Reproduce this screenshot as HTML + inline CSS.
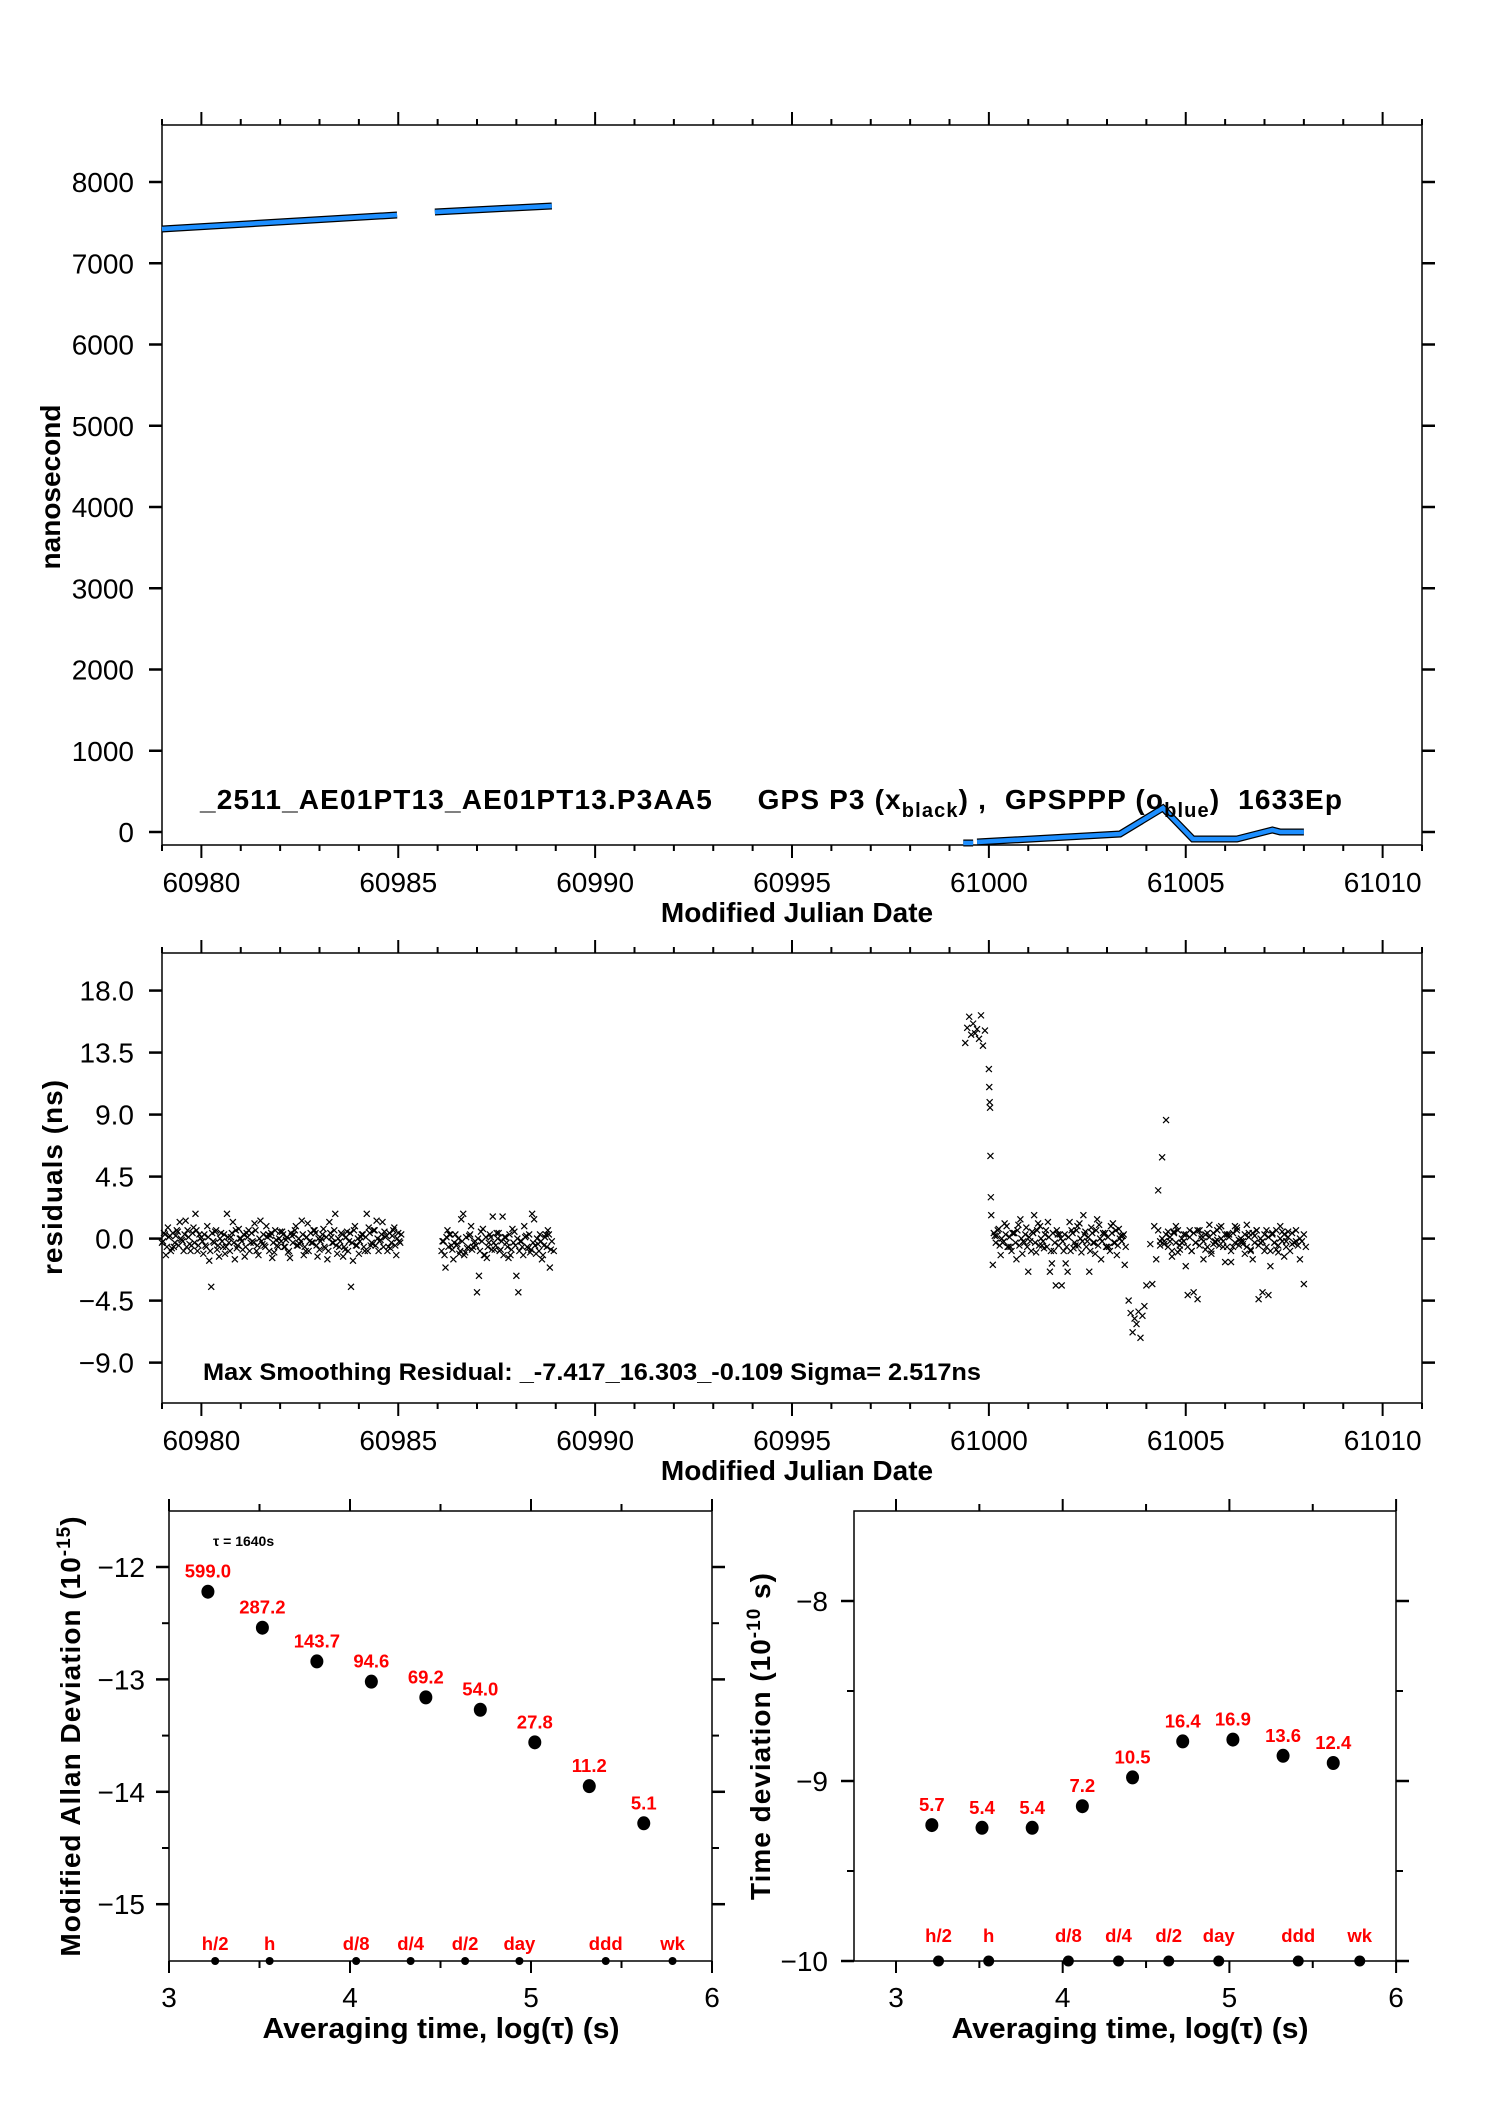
<!DOCTYPE html>
<html><head><meta charset="utf-8"><style>
html,body{margin:0;padding:0;background:#fff}
svg{display:block}
text{font-family:"Liberation Sans",sans-serif}
</style></head><body>
<svg id="root" width="1488" height="2105" viewBox="0 0 1488 2105" xmlns="http://www.w3.org/2000/svg">
<rect width="1488" height="2105" fill="#fff"/>
<g id="top"></g>
<g id="res"></g>
<g id="adev"></g>
<g id="tdev"></g>
</svg>
<script>
// ---------- data ----------
const line1Mjd = [60979.0, 60984.97];
const line1Ns = [7421, 7594];
const line2Mjd = [60985.93, 60988.9];
const line2Ns = [7631, 7705];
const line3Mjd = [60999.35, 60999.6];
const line3Ns = [-135, -135];
const line4Mjd = [60999.7, 61003.33, 61004.42, 61005.18, 61006.3, 61007.2, 61007.4, 61008.0];
const line4Ns = [-123, -25, 295, -86, -86, 25, 0, 0];

const topYTicks = [0,1000,2000,3000,4000,5000,6000,7000,8000];
const mjdTickLabels = [60980,60985,60990,60995,61000,61005,61010];
const resYTicks = [18.0,13.5,9.0,4.5,0.0,-4.5,-9.0];
const resYLabels = ["18.0","13.5","9.0","4.5","0.0","\u22124.5","\u22129.0"];

const resS1Start = 60979.0, resS1Step = 0.1;
const resS1 = [-0.3,-1.2,0.2,-0.6,0.5,-0.1,1.3,-0.4,0.8,-0.9,0.1,-0.5,-1.6,-0.2,-0.8,0.4,-1.1,-0.3,1.2,-0.7,0.0,-1.3,0.6,-0.2,-0.9,1.3,-0.5,0.3,-1.4,-0.1,0.5,-0.6,-1.0,0.2,0.9,-0.4,-1.2,1.1,-0.3,0.4,-0.8,0.7,-1.5,0.1,1.8,-0.6,-1.3,0.5,-3.5,0.9,-1.1,0.3,1.8,-0.5,0.6,-0.9,1.2,0.2,-0.7,0.8,0.4];
const resS2Start = 60986.1, resS2Step = 0.1;
const resS2 = [-0.9,-2.1,0.3,-1.5,-0.4,1.4,-1.0,0.2,-0.6,-3.9,0.5,-1.2,-0.3,1.6,0.4,-0.8,0.1,-1.4,0.7,-2.7,-0.2,0.9,-0.7,1.8,-1.1,0.3,-0.5,0.6,-0.2];
const resS3Start = 60999.4, resS3Step = 0.05;
const resS3 = [14.2,15.3,16.1,14.8,15.6,14.9,15.2,14.5,16.2,14.0,15.1];
const resS3bStart = 61000.0, resS3bStep = 0.01;
const resS3b = [12.3,11.0,9.9,9.5,6.0,3.0,1.7];
const resS4Start = 61000.1, resS4Step = 0.1;
const resS4 = [-1.9,0.2,-1.2,1.1,-0.6,0.4,-1.5,1.4,-0.3,-2.4,0.5,-1.0,0.9,-0.7,1.2,-1.8,-3.4,0.3,-0.9,-2.4,0.6,-0.5,1.1,1.7,-0.2,0.8,-1.1,1.0,0.4,-0.6,0.9,-0.3,0.7,0.2];
const resS5Start = 61003.55, resS5Step = 0.05;
const resS5 = [-4.5,-5.4,-6.8,-5.8,-6.2,-5.3,-7.2,-5.6,-4.9,-3.4];
const resS6Start = 61004.1, resS6Step = 0.1;
const resS6 = [-0.4,0.9,3.5,5.9,8.6,-0.2,0.5,-1.0,-0.3,-2.0,0.6,-3.9,-4.4,0.2,-0.8,1.0,-0.4,-0.1,0.9,-1.7,0.3,-0.6,0.8,-0.2,-1.1,0.4,-1.5,0.6,-0.3,-0.9,-4.1,0.3,-0.8,0.9,-1.3,0.5,-0.4,-0.2,-1.5,-3.3];
const resDense = [-0.2,0.3,-0.6,0.1,-0.9,0.4,-0.3,0.6,-0.5,0.0];

const logTau = [3.215,3.516,3.817,4.118,4.419,4.720,5.021,5.322,5.623];
const adevVals = [-12.22,-12.54,-12.84,-13.02,-13.16,-13.27,-13.56,-13.95,-14.28];
const adevLabels = ["599.0","287.2","143.7","94.6","69.2","54.0","27.8","11.2","5.1"];
const tdevVals = [-9.245,-9.26,-9.26,-9.14,-8.98,-8.78,-8.77,-8.86,-8.90];
const tdevLabels = ["5.7","5.4","5.4","7.2","10.5","16.4","16.9","13.6","12.4"];
const markLog = [3.255,3.556,4.034,4.335,4.636,4.936,5.413,5.782];
const markLabels = ["h/2","h","d/8","d/4","d/2","day","ddd","wk"];
const adevYTicks = [-12,-13,-14,-15];
const tdevYTicks = [-8,-9,-10];
const logXTicks = [3,4,5,6];

// ---------- helpers ----------
const NS='http://www.w3.org/2000/svg';
function mk(parent, tag, attrs, txt){
  const e=document.createElementNS(NS,tag);
  for(const k in attrs) e.setAttribute(k,attrs[k]);
  if(txt!==undefined) e.textContent=txt;
  parent.appendChild(e); return e;
}
const X = m => 162 + (m-60979)*39.375;
const Y1 = v => 832 - v*0.08125;
const Y2 = v => 1238.6 - v*13.78;
const XL = l => 169 + (l-3)*181;
const YL = v => 1567 + (-12 - v)*112.4;
const XR = l => 896 + (l-3)*166.7;
const YR = v => 1601 + (-8 - v)*180;

function frame(g,x0,y0,x1,y1,name){
  const r=mk(g,'rect',{x:x0,y:y0,width:x1-x0,height:y1-y0,fill:'none',stroke:'#000','stroke-width':1.5});
  
  
}
function mjdAxis(g, y0, y1, labelY, titleY){
  for(let d=60979; d<=61011; d++){
    const x=X(d), major = d%5===0;
    const len = major?13:6;
    const t1=mk(g,'line',{x1:x,x2:x,y1:y0,y2:y0-len,stroke:'#000','stroke-width':2});
    
    
    const t2=mk(g,'line',{x1:x,x2:x,y1:y1,y2:y1+len,stroke:'#000','stroke-width':2});
    
    
  }
  mjdTickLabels.forEach(m=>{
    const t=mk(g,'text',{x:X(m),y:labelY,'font-size':28,'text-anchor':'middle'},String(m));
    
    
  });
  const tt=mk(g,'text',{x:797,y:titleY,'font-size':28,'font-weight':'bold','text-anchor':'middle'},'Modified Julian Date');
  
  
}
function yTicks(g, vals, labels, yf, x0, x1, lx, fs){
  vals.forEach((v,i)=>{
    const y=yf(v);
    const a=mk(g,'line',{x1:x0-13,x2:x0,y1:y,y2:y,stroke:'#000','stroke-width':2.5});
    
    
    const b=mk(g,'line',{x1:x1,x2:x1+13,y1:y,y2:y,stroke:'#000','stroke-width':2.5});
    
    
    const t=mk(g,'text',{x:lx,y:y+10,'font-size':fs,'text-anchor':'end'},labels[i]);
    
    
  });
}

// ---------- top panel ----------
const gt=document.getElementById('top');
frame(gt,162,125,1422,845,'top-plot-frame');
mjdAxis(gt,125,845,892,922);
yTicks(gt, topYTicks, topYTicks.map(String), Y1, 162,1422,134,28);
const yt=mk(gt,'text',{x:0,y:0,'font-size':28,'font-weight':'bold','text-anchor':'middle',transform:'translate(60,487) rotate(-90)'},'nanosecond');


[[line1Mjd,line1Ns],[line2Mjd,line2Ns],[line3Mjd,line3Ns],[line4Mjd,line4Ns]].forEach((p,k)=>{
  const pts=p[0].map((m,i)=>X(m)+','+Y1(p[1][i])).join(' ');
  const bl=mk(gt,'polyline',{points:pts,fill:'none',stroke:'#000','stroke-width':7,'stroke-linejoin':'miter'});
  
  
  const bu=mk(gt,'polyline',{points:pts,fill:'none',stroke:'#1e8fff','stroke-width':4.5,'stroke-linejoin':'miter'});
  
  
});
const ttl=mk(gt,'text',{x:200,y:809,'font-size':28,'font-weight':'bold',textLength:1142,lengthAdjust:'spacing'});


ttl.innerHTML='_2511_AE01PT13_AE01PT13.P3AA5\u00a0\u00a0\u00a0\u00a0\u00a0GPS P3 (x<tspan font-size="20" dy="8">black</tspan><tspan dy="-8">) ,\u00a0\u00a0GPSPPP (o</tspan><tspan font-size="20" dy="8">blue</tspan><tspan dy="-8">)\u00a0\u00a01633Ep</tspan>';

// ---------- residual panel ----------
const gr=document.getElementById('res');
frame(gr,162,953,1422,1403,'residuals-plot-frame');
mjdAxis(gr,953,1403,1450,1480);
yTicks(gr,resYTicks,resYLabels,Y2,162,1422,134,28);
const yr=mk(gr,'text',{x:0,y:0,'font-size':28,'font-weight':'bold','text-anchor':'middle','letter-spacing':'1',transform:'translate(62,1177) rotate(-90)'},'residuals (ns)');


function drawRes(start, step, vals){
  vals.forEach((v,i)=>{
    const x=X(start+step*i), y=Y2(v), s=3;
    const p=mk(gr,'path',{d:`M${x-s},${y-s}L${x+s},${y+s}M${x-s},${y+s}L${x+s},${y-s}`,stroke:'#000','stroke-width':1.2,fill:'none'});
    
    
  });
}
drawRes(resS1Start,resS1Step,resS1);
drawRes(resS1Start+0.05,resS1Step,resS1.slice().reverse());
drawRes(resS1Start+0.025,0.05,resS1.concat(resS1).map((v,i)=>resDense[i%10]));
drawRes(resS2Start,resS2Step,resS2);
drawRes(resS2Start+0.05,resS2Step,resS2.slice().reverse());
drawRes(resS2Start+0.025,0.05,resS2.slice(0,28).concat(resS2.slice(0,28)).map((v,i)=>resDense[(i+3)%10]-0.3));
drawRes(resS3Start,resS3Step,resS3);
drawRes(resS3bStart,resS3bStep,resS3b);
drawRes(resS4Start,resS4Step,resS4);
drawRes(resS4Start+0.05,resS4Step,resS4.slice().reverse());
drawRes(resS4Start+0.025,0.05,resS4.concat(resS4).map((v,i)=>resDense[(i+5)%10]));
drawRes(resS5Start,resS5Step,resS5);
drawRes(resS6Start,resS6Step,resS6);
drawRes(resS6Start+0.05,resS6Step,resS6.slice(5).reverse());
drawRes(resS6Start+0.2,0.05,resS6.concat(resS6).slice(0,76).map((v,i)=>resDense[(i+7)%10]));
const ms=mk(gr,'text',{x:203,y:1380,'font-size':24,'font-weight':'bold',textLength:778,lengthAdjust:'spacingAndGlyphs'},'Max Smoothing Residual: _-7.417_16.303_-0.109  Sigma= 2.517ns');



// ---------- bottom panels ----------
function logPanel(g, xf, yf, x0, x1, xmin, vals, labels, yticks, yLabelX, titleCx, ytitle, yTitleX, markY, markLabY, markR){
  const y0=1511, y1=1961;
  frame(g,x0,y0,x1,y1, ytitle.name);
  for(let l=Math.ceil(xmin*2)/2; l<=6.001; l+=0.5){
    const x=xf(l), major=Math.abs(l-Math.round(l))<0.01, len=major?12:7;
    const a=mk(g,'line',{x1:x,x2:x,y1:y0,y2:y0-len,stroke:'#000','stroke-width':2});
    
    
    const b=mk(g,'line',{x1:x,x2:x,y1:y1,y2:y1+len,stroke:'#000','stroke-width':2});
    
    
  }
  logXTicks.forEach(l=>{
    const t=mk(g,'text',{x:xf(l),y:2007,'font-size':28,'text-anchor':'middle'},String(l));
    
    
  });
  const xt=mk(g,'text',{x:titleCx,y:2038,'font-size':29,'font-weight':'bold','text-anchor':'middle',textLength:357,lengthAdjust:'spacingAndGlyphs'},'Averaging time, log(\u03c4) (s)');
  
  
  yTicks(g, yticks, yticks.map(v=>'\u2212'+Math.abs(v)), yf, x0, x1, yLabelX, 28);
  const minorT = yticks.slice(0,-1).map(v=>v-0.5);
  minorT.forEach(v=>{
    const y=yf(v);
    const a=mk(g,'line',{x1:x0-7,x2:x0,y1:y,y2:y,stroke:'#000','stroke-width':2});
    
    
    const b=mk(g,'line',{x1:x1,x2:x1+7,y1:y,y2:y,stroke:'#000','stroke-width':2});
    
    
  });
  const yt=mk(g,'text',{x:0,y:0,'font-size':28,'font-weight':'bold','text-anchor':'middle','letter-spacing':'1',transform:`translate(${yTitleX},1736) rotate(-90)`});
  
  
  yt.innerHTML=ytitle.html;
  logTau.forEach((l,i)=>{
    const c=mk(g,'ellipse',{cx:xf(l),cy:yf(vals[i]),rx:6.5,ry:7,fill:'#000'});
    
    
    const t=mk(g,'text',{x:xf(l),y:yf(vals[i])-14,'font-size':18.5,'font-weight':'bold',fill:'#ff0000','text-anchor':'middle'},labels[i]);
    
    
  });
  markLog.forEach((l,i)=>{
    const c=mk(g,'circle',{cx:xf(l),cy:markY,r:markR,fill:'#000'});
    
    
    const t=mk(g,'text',{x:xf(l),y:markLabY,'font-size':18.5,'font-weight':'bold',fill:'#ff0000','text-anchor':'middle'},markLabels[i]);
    
    
  });
}
const ga=document.getElementById('adev');
logPanel(ga, XL, YL, 169, 712, 3, adevVals, adevLabels, adevYTicks, 145, 441,
  {name:'adev-plot-frame', html:'Modified Allan Deviation (10<tspan font-size="19" dy="-10">-15</tspan><tspan dy="10">)</tspan>'}, 80, 1961, 1950, 4);
const tau=mk(ga,'text',{x:213,y:1546,'font-size':14,'font-weight':'bold'},'\u03c4 = 1640s');


const gd=document.getElementById('tdev');
logPanel(gd, XR, YR, 854, 1396, 2.75, tdevVals, tdevLabels, tdevYTicks, 828, 1130,
  {name:'tdev-plot-frame', html:'Time deviation (10<tspan font-size="19" dy="-10">-10</tspan><tspan dy="10"> s)</tspan>'}, 770, 1961, 1942, 5.5);
</script>
</body></html>
